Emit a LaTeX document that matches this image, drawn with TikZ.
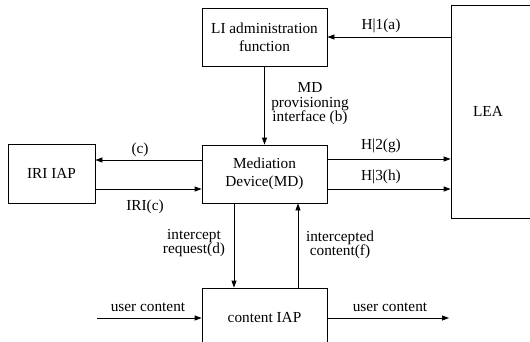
\documentclass[tikz,border=0pt]{standalone}
\usepackage{fontspec}
\setmainfont{Liberation Serif}
\usetikzlibrary{arrows.meta}
\begin{document}
\begin{tikzpicture}[x=1pt,y=-1pt,
  box/.style={draw,line width=0.8pt,inner sep=0pt,align=center,
    font=\fontsize{15.3}{18}\selectfont},
  lbl/.style={inner sep=0pt,align=center,font=\fontsize{15.3}{14.5}\selectfont},
  arr/.style={line width=0.8pt,-{Triangle[length=7pt,width=5pt]}}]
\useasboundingbox (0,0) rectangle (530,341);
\node[box,minimum width=125pt,minimum height=58pt] (LI) at (264.5,37) {LI administration\\function};
\node[box,minimum width=125pt,minimum height=58pt] (MD) at (264.5,174) {Mediation\\Device(MD)};
\node[box,minimum width=87pt,minimum height=59pt] (IRI) at (51.5,173.5) {IRI IAP};
\node[box,minimum width=125pt,minimum height=60pt] (CIAP) at (264.5,318) {content IAP};
\node[box,minimum width=84pt,minimum height=213pt] (LEA) at (493,111.5) {LEA\hspace{10pt}};
\coordinate (ucl) at (97,318);
\coordinate (ucr) at (449,318);
% connectors
\draw[arr] (LEA.west |- LI.east) -- (LI.east);
\draw[arr] (LI.south) -- (MD.north);
\draw[arr] ([yshift=14pt]MD.west) -- ([yshift=14pt]MD.west -| IRI.east);
\draw[arr] ([yshift=-15pt]MD.west -| IRI.east) -- ([yshift=-15pt]MD.west);
\draw[arr] ([yshift=15pt]MD.east) -- ([yshift=15pt]MD.east -| LEA.west);
\draw[arr] ([yshift=-15pt]MD.east) -- ([yshift=-15pt]MD.east -| LEA.west);
\draw[arr] ([xshift=-30.5pt]MD.south) -- ([xshift=-30.5pt]CIAP.north);
\draw[arr] ([xshift=33.5pt]CIAP.north) -- ([xshift=33.5pt]MD.south);
\draw[arr] (ucl) -- (CIAP.west);
\draw[arr] (CIAP.east) -- (ucr);
% labels
\node[lbl] (la) at (381,26) {H|1(a)};
\node[lbl] (lb) at (310,104) {MD\\provisioning\\interface (b)};
\node[lbl] (lc) at (140,150) {(c)};
\node[lbl] (lg) at (381,146) {H|2(g)};
\node[lbl] (lh) at (381,177) {H|3(h)};
\node[lbl] (li) at (145,207) {IRI(c)};
\node[lbl] (ld) at (194,243) {intercept\\request(d)};
\node[lbl] (lf) at (340,245) {intercepted\\content(f)};
\node[lbl] (lu1) at (148,307) {user content};
\node[lbl] (lu2) at (390,307) {user content};
\end{tikzpicture}
\end{document}
